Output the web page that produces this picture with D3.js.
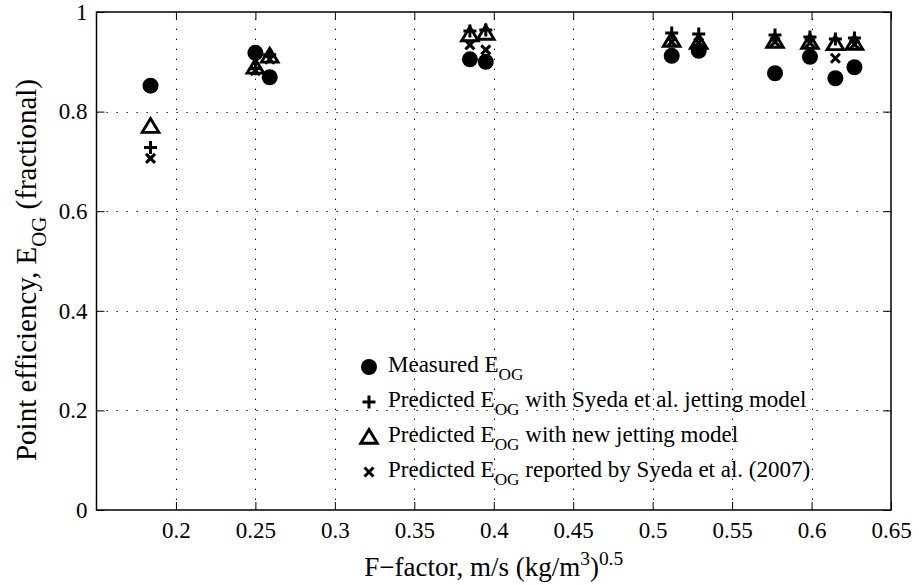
<!DOCTYPE html>
<html>
<head>
<meta charset="utf-8">
<script src="https://cdn.jsdelivr.net/npm/d3@7"></script>
<style>
  html, body { margin: 0; padding: 0; background: #fff; }
  svg { display: block; }
  text { font-family: "Liberation Serif", "Times New Roman", serif; fill: #000; }
</style>
</head>
<body>
<svg id="chart" width="919" height="585"></svg>
<script>
// F-factor values of the test points
const fFactor = [0.184, 0.250, 0.259, 0.385, 0.395, 0.512, 0.529, 0.577, 0.599, 0.615, 0.627];
// Point efficiency, measured
const measured = [0.852, 0.918, 0.869, 0.905, 0.900, 0.912, 0.922, 0.877, 0.910, 0.867, 0.889];
// Predicted with Syeda et al. jetting model
const predSyedaJet = [0.728, 0.886, 0.914, 0.962, 0.964, 0.958, 0.956, 0.954, 0.950, 0.946, 0.948];
// Predicted with new jetting model
const predNewJet = [0.771, 0.890, 0.912, 0.955, 0.958, 0.944, 0.940, 0.942, 0.940, 0.937, 0.938];
// Predicted values reported by Syeda et al. (2007)
const predSyedaRep = [0.706, 0.882, 0.905, 0.934, 0.924, 0.940, 0.938, 0.940, 0.938, 0.907, 0.935];

const xTicks = [0.2, 0.25, 0.3, 0.35, 0.4, 0.45, 0.5, 0.55, 0.6, 0.65];
const yTicks = [0, 0.2, 0.4, 0.6, 0.8, 1];

const legendLabels = [
  { pre: "Measured E", sub: "OG", post: "" },
  { pre: "Predicted E", sub: "OG", post: " with Syeda et al. jetting model" },
  { pre: "Predicted E", sub: "OG", post: " with new jetting model" },
  { pre: "Predicted E", sub: "OG", post: " reported by Syeda et al. (2007)" }
];

(function draw() {
  const svg = d3.select("#chart");
  const pL = 96.5, pR = 891, pT = 12, pB = 510;

  const x = d3.scaleLinear().domain([0.15, 0.65]).range([pL, pR]);
  const y = d3.scaleLinear().domain([0, 1]).range([pB, pT]);

  const tickFont = 23;
  const tickLen = 8;

  // dotted grid
  const grid = svg.append("g").attr("stroke", "#000").attr("stroke-width", 1)
    .attr("stroke-dasharray", "1.3,8.7");
  grid.selectAll("line.v").data(xTicks.filter(t => t < 0.649)).join("line")
    .attr("class", "v")
    .attr("x1", d => Math.round(x(d)) + 0.5).attr("x2", d => Math.round(x(d)) + 0.5)
    .attr("y1", pB).attr("y2", pT);
  grid.selectAll("line.h").data(yTicks.filter(t => t > 0 && t < 1)).join("line")
    .attr("class", "h")
    .attr("y1", d => Math.round(y(d)) + 0.5).attr("y2", d => Math.round(y(d)) + 0.5)
    .attr("x1", pL).attr("x2", pR);

  // axes with inward ticks on all four sides
  const axB = d3.axisBottom(x).tickValues(xTicks).tickSizeInner(-tickLen).tickSizeOuter(0)
    .tickPadding(12).tickFormat(d3.format("~g"));
  const axT = d3.axisTop(x).tickValues(xTicks).tickSizeInner(-tickLen).tickSizeOuter(0).tickFormat("");
  const axL = d3.axisLeft(y).tickValues(yTicks).tickSizeInner(-tickLen).tickSizeOuter(0)
    .tickPadding(9).tickFormat(d3.format("~g"));
  const axR = d3.axisRight(y).tickValues(yTicks).tickSizeInner(-tickLen).tickSizeOuter(0).tickFormat("");

  function styleAxis(g) {
    g.select(".domain").remove();
    g.selectAll(".tick line").attr("stroke", "#000").attr("stroke-width", 1);
    g.selectAll(".tick text").attr("font-size", tickFont).attr("fill", "#000");
  }
  svg.append("g").attr("transform", `translate(0,${pB})`).call(axB).call(styleAxis);
  svg.append("g").attr("transform", `translate(0,${pT})`).call(axT).call(styleAxis);
  svg.append("g").attr("transform", `translate(${pL},0)`).call(axL).call(styleAxis);
  svg.append("g").attr("transform", `translate(${pR},0)`).call(axR).call(styleAxis);

  // frame
  svg.append("rect").attr("x", pL).attr("y", pT)
    .attr("width", pR - pL).attr("height", pB - pT)
    .attr("fill", "none").attr("stroke", "#000").attr("stroke-width", 1.5);

  // marker painters
  const mk = {
    circle: (g) => g.append("circle").attr("r", 8).attr("fill", "#000"),
    plus: (g) => g.append("path").attr("d", "M-6.5,0H6.5M0,-6.5V6.5")
      .attr("stroke", "#000").attr("stroke-width", 3).attr("fill", "none"),
    tri: (g) => g.append("path").attr("d", "M0,-7.5L8.3,6.3L-8.3,6.3Z")
      .attr("stroke", "#000").attr("stroke-width", 2.9).attr("fill", "none")
      .attr("stroke-linejoin", "miter"),
    cross: (g) => g.append("path").attr("d", "M-4.5,-4.5L4.5,4.5M-4.5,4.5L4.5,-4.5")
      .attr("stroke", "#000").attr("stroke-width", 3).attr("fill", "none")
  };

  const series = [
    { vals: measured, m: "circle" },
    { vals: predSyedaJet, m: "plus" },
    { vals: predNewJet, m: "tri" },
    { vals: predSyedaRep, m: "cross" }
  ];

  // crosses first, circles last
  [3, 2, 1, 0].forEach(si => {
    const s = series[si];
    const g = svg.append("g");
    s.vals.forEach((v, i) => {
      const p = g.append("g").attr("transform", `translate(${x(fFactor[i])},${y(v)})`);
      mk[s.m](p);
    });
  });

  // legend
  const legX = 369, legY0 = 367, legDy = 35, legFont = 23;
  legendLabels.forEach((l, i) => {
    const yy = legY0 + i * legDy;
    const p = svg.append("g").attr("transform", `translate(${legX},${yy})`);
    mk[series[i].m](p);
    const t = svg.append("text").attr("x", legX + 19).attr("y", yy + 5)
      .attr("font-size", legFont);
    t.append("tspan").text(l.pre);
    t.append("tspan").attr("font-size", legFont * 0.75).attr("dy", 8).text(l.sub);
    if (l.post) t.append("tspan").attr("dy", -8).text(l.post);
  });

  // axis titles
  const xFont = 27;
  const xt = svg.append("text").attr("x", (pL + pR) / 2).attr("y", 576)
    .attr("text-anchor", "middle").attr("font-size", xFont);
  xt.append("tspan").text("F\u2212factor, m/s (kg/m");
  xt.append("tspan").attr("font-size", xFont * 0.72).attr("dy", -11).text("3");
  xt.append("tspan").attr("dy", 11).text(")");
  xt.append("tspan").attr("font-size", xFont * 0.72).attr("dy", -11).text("0.5");

  const yFont = 29;
  const yt = svg.append("text").attr("transform", `translate(36,270) rotate(-90)`)
    .attr("text-anchor", "middle").attr("font-size", yFont);
  yt.append("tspan").text("Point efficiency, E");
  yt.append("tspan").attr("font-size", yFont * 0.72).attr("dy", 10).text("OG");
  yt.append("tspan").attr("dy", -10).text(" (fractional)");
})();
</script>
</body>
</html>
